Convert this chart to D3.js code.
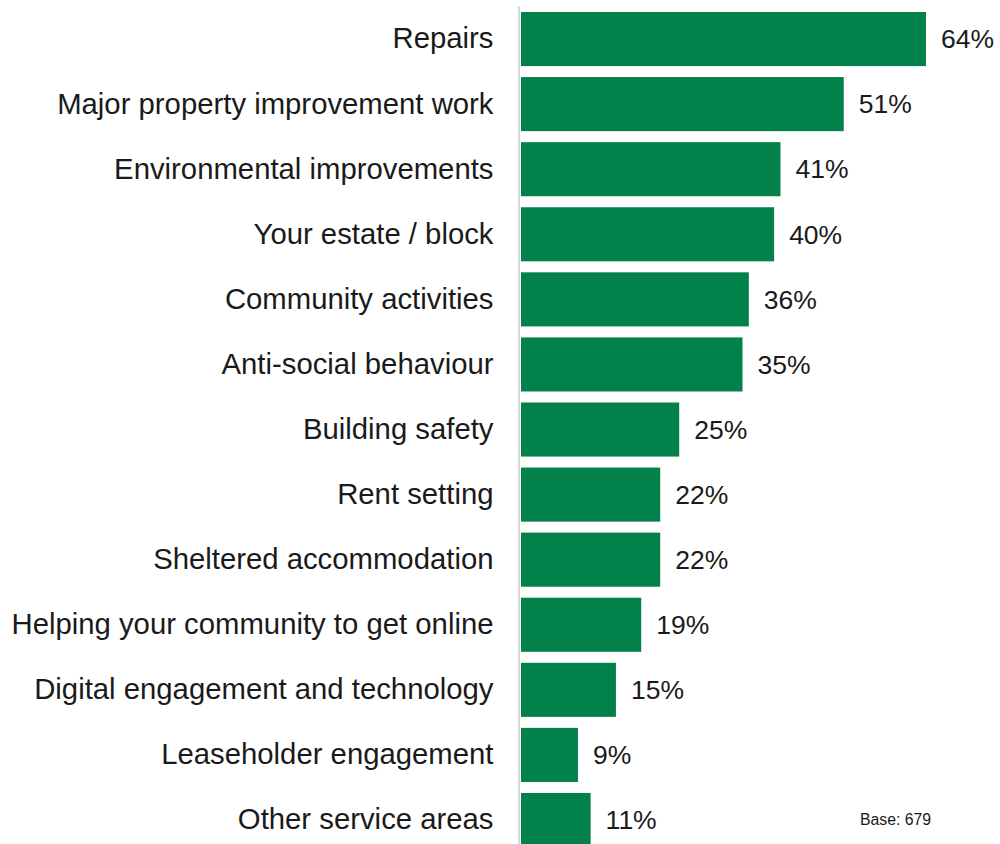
<!DOCTYPE html>
<html>
<head>
<meta charset="utf-8">
<script src="https://cdn.jsdelivr.net/npm/d3@7"></script>
<style>
  html, body { margin: 0; padding: 0; background: #ffffff; }
  svg { display: block; font-family: "Liberation Sans", Arial, sans-serif; }
</style>
</head>
<body>
<svg id="chart" width="1000" height="844"></svg>
<script>
// Service areas and share of respondents (%)
const categories = [
  "Repairs",
  "Major property improvement work",
  "Environmental improvements",
  "Your estate / block",
  "Community activities",
  "Anti-social behaviour",
  "Building safety",
  "Rent setting",
  "Sheltered accommodation",
  "Helping your community to get online",
  "Digital engagement and technology",
  "Leaseholder engagement",
  "Other service areas"
];
const values = [64, 51, 41, 40, 36, 35, 25, 22, 22, 19, 15, 9, 11];
const baseNote = "Base: 679";

const svg = d3.select("#chart");
const barColor = "#03814a";

const x = d3.scaleLinear().domain([0, 64]).range([521, 926]);
const y = d3.scaleBand()
  .domain(categories)
  .range([6.5, 6.5 + 13 * 65.08])
  .paddingInner(0.169)
  .paddingOuter(0.0845);

// Bars
svg.append("g")
  .selectAll("rect")
  .data(values)
  .join("rect")
  .attr("x", x(0))
  .attr("y", (d, i) => y(categories[i]))
  .attr("width", d => x(d) - x(0))
  .attr("height", y.bandwidth())
  .attr("fill", barColor);

// Category axis (left): labels only, right-aligned
const yAxis = d3.axisLeft(y).tickSize(0).tickPadding(26);
const gAxis = svg.append("g")
  .attr("transform", `translate(${x(0) - 1.5},0)`)
  .call(yAxis);
gAxis.select(".domain").remove();
gAxis.selectAll("text")
  .attr("font-size", 29.3)
  .attr("dy", "0.32em")
  .attr("fill", "#1a1a1a")
  .attr("font-family", "'Liberation Sans', Arial, sans-serif");

// Baseline rule
svg.append("line")
  .attr("x1", x(0) - 2).attr("x2", x(0) - 2)
  .attr("y1", 6).attr("y2", 844)
  .attr("stroke", "#d9d9d9")
  .attr("stroke-width", 2);

// Value labels
svg.append("g")
  .selectAll("text")
  .data(values)
  .join("text")
  .attr("x", d => x(d) + 15)
  .attr("y", (d, i) => y(categories[i]) + y.bandwidth() / 2)
  .attr("dy", "0.35em")
  .attr("font-size", 26.5)
  .attr("fill", "#1a1a1a")
  .text(d => d + "%");

// Base note
svg.append("text")
  .attr("x", 860)
  .attr("y", 825)
  .attr("font-size", 15.8)
  .attr("fill", "#1a1a1a")
  .text(baseNote);
</script>
</body>
</html>
